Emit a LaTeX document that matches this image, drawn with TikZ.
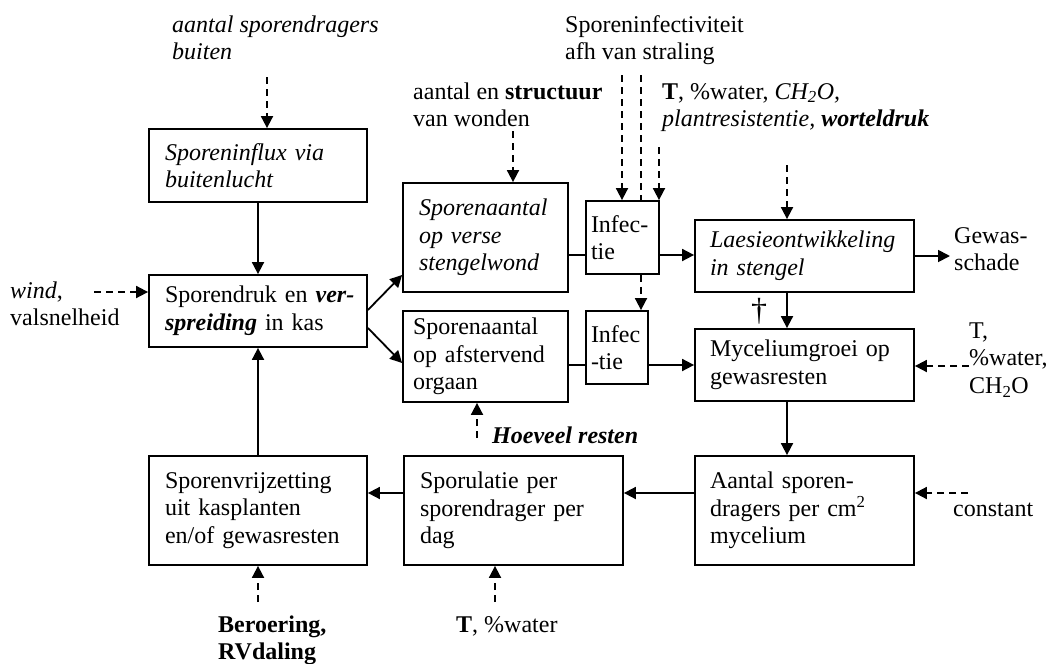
\documentclass[tikz,border=0pt]{standalone}
\usepackage{fontspec}
\setmainfont{Liberation Serif}
\usetikzlibrary{arrows.meta}
\begin{document}
\begin{tikzpicture}[x=1pt,y=-1pt,
  font=\fontsize{24}{27.6}\selectfont,
  box/.style={draw, line width=1.8pt, inner xsep=16pt, inner ysep=0pt, align=left},
  ar/.style={line width=1.8pt, -{Triangle[length=12pt,width=12pt]}},
  ln/.style={line width=1.8pt},
  dar/.style={line width=1.8pt, dash pattern=on 7pt off 5pt, -{Triangle[length=12pt,width=12pt]}},
  dln/.style={line width=1.8pt, dash pattern=on 7pt off 5pt},
  lab/.style={inner sep=0pt, align=left, anchor=north west},
  labb/.style={inner sep=0pt, anchor=base west},
]
\useasboundingbox (0,0) rectangle (1053,664);

% boxes
\node[box, text width=186pt, minimum height=73pt] (A) at (258,165.5)
  {\mbox{\textit{Sporeninflux via}}\\\mbox{\textit{buitenlucht}}};
\node[box, text width=186pt, minimum height=72pt] (B) at (258,311)
  {\mbox{Sporendruk en \textbf{\textit{ver-}}}\\\mbox{\textbf{\textit{spreiding}} in kas}};
\node[box, text width=186pt, minimum height=109pt] (K) at (258,510.5)
  {\mbox{Sporenvrijzetting}\\\mbox{uit kasplanten}\\\mbox{en/of gewasresten}};
\node[box, text width=133pt, minimum height=109pt] (C) at (485.5,237.5)
  {\mbox{\textit{Sporenaantal}}\\\mbox{\textit{op verse}}\\\mbox{\textit{stengelwond}}};
\node[box, inner xsep=10pt, text width=145pt, minimum height=91pt] (E) at (485.5,356.5)
  {\mbox{Sporenaantal}\\\mbox{op afstervend}\\\mbox{orgaan}};
\node[box, inner xsep=5pt, text width=63pt, minimum height=73pt] (D) at (622.5,237.5)
  {\mbox{Infec-}\\\mbox{tie}};
\node[box, inner xsep=5pt, text width=52pt, minimum height=73pt] (F) at (617,347.5)
  {\mbox{Infec}\\\mbox{-tie}};
\node[box, inner xsep=15pt, text width=189pt, minimum height=72pt] (G) at (804.5,256)
  {\mbox{\textit{Laesieontwikkeling}}\\\mbox{\textit{in stengel}}};
\node[box, inner xsep=15pt, text width=189pt, minimum height=72pt] (H) at (804.5,365)
  {\mbox{Myceliumgroei op}\\\mbox{gewasresten}};
\node[box, inner xsep=15pt, text width=189pt, minimum height=109pt] (I) at (804.5,510.5)
  {\mbox{Aantal sporen-}\\\mbox{dragers per cm\textsuperscript{2}}\\\mbox{mycelium}};
\node[box, text width=187pt, minimum height=109pt] (J) at (513.5,510.5)
  {\mbox{Sporulatie per}\\\mbox{sporendrager per}\\\mbox{dag}};

% labels
\node[lab] (l1) at (172,12.7) {\strut\textit{aantal sporendragers}\\\textit{buiten}};
\node[lab] (l2) at (565,12.7) {\strut Sporeninfectiviteit\\afh van straling};
\node[lab] (l3) at (413,79.7) {\strut aantal en \textbf{structuur}\\van wonden};
\node[lab] (l4) at (662,79.7) {\strut\textbf{T}, \%water, \textit{CH\textsubscript{2}O,}\\\textit{plantresistentie,} \textbf{\textit{worteldruk}}};
\node[lab] (l5) at (10,278.7) {\strut\textit{wind},\\valsnelheid};
\node[lab] (l6) at (954,223.7) {\strut Gewas-\\schade};
\node[lab] (l7) at (969,318.7) {\strut T,\\\%water,\\CH\textsubscript{2}O};
\node[labb] (l8) at (492,443) {\textbf{\textit{Hoeveel resten}}};
\node[labb] (l9) at (953,516) {constant};
\node[labb] (l10) at (456,632) {\textbf{T}, \%water};
\node[lab] (l11) at (218,612.7) {\strut\textbf{Beroering,}\\\textbf{RVdaling}};
\node[inner sep=0pt, font=\fontsize{32}{36}\selectfont] (dg) at (759,311) {\dag};

% helper coordinates
\coordinate (yI) at (0,493);
\coordinate (cst) at (968,493);
\coordinate (xG) at (787,0);
\coordinate (gtop) at (787,165);
\coordinate (tw) at (969,366);
\coordinate (yC) at (0,255);
\coordinate (xF) at (641,0);
\coordinate (s1) at (622,75);
\coordinate (s2) at (641,75);
\coordinate (s3) at (659,147);
\coordinate (wn) at (513,131);
\coordinate (ab) at (267,77);
\coordinate (wd) at (94,292);
\coordinate (bu) at (0,310);
\coordinate (cu) at (0,275);
\coordinate (bl) at (0,328);
\coordinate (el) at (0,363);
\coordinate (hr) at (477,438);
\coordinate (tj) at (495,602);
\coordinate (bk) at (258,602);

% connectors
\draw[ar] (A.south) -- (B.north);
\draw[ar] (K.north) -- (B.south);
\draw[ar] (J.west |- yI) -- (K.east |- yI);
\draw[ar] (I.west |- yI) -- (J.east |- yI);
\draw[dar] (cst) -- (I.east |- cst);
\draw[ar] (H.south -| xG) -- (I.north -| xG);
\draw[ar] (G.south -| xG) -- (H.north -| xG);
\draw[dar] (gtop) -- (G.north -| gtop);
\draw[ar] (G.east) -- ([xshift=-4pt]l6.west |- G.east);
\draw[dar] (tw) -- (H.east |- tw);
\draw[ln] (E.east |- H.west) -- (F.west |- H.west);
\draw[ar] (F.east |- H.west) -- (H.west);
\draw[ln] (C.east |- yC) -- (D.west |- yC);
\draw[ar] (D.east |- yC) -- (G.west |- yC);
\draw[dar] (D.south -| xF) -- (F.north -| xF);
\draw[dar] (s1) -- (D.north -| s1);
\draw[dln] (s2) -- (D.north -| s2);
\draw[dar] (s3) -- (D.north -| s3);
\draw[dar] (wn) -- (C.north -| wn);
\draw[dar] (ab) -- (A.north -| ab);
\draw[dar] (wd) -- (B.west |- wd);
\draw[ar] (B.east |- bu) -- (C.west |- cu);
\draw[ar] (B.east |- bl) -- (E.west |- el);
\draw[dar] (hr) -- (E.south -| hr);
\draw[dar] (tj) -- (J.south -| tj);
\draw[dar] (bk) -- (K.south);
\end{tikzpicture}
\end{document}
